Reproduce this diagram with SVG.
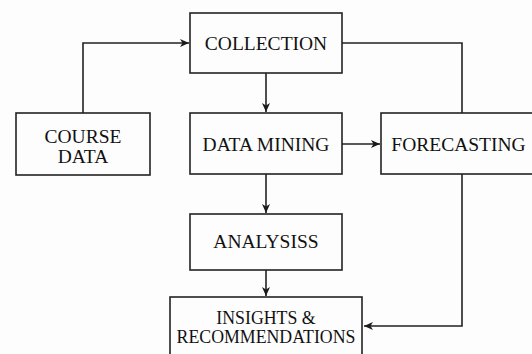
<svg xmlns="http://www.w3.org/2000/svg" width="532" height="354" viewBox="0 0 532 354">
<defs>
<marker id="arr" markerWidth="10" markerHeight="8" refX="9" refY="4" orient="auto" markerUnits="userSpaceOnUse">
<path d="M0,0 L9,4 L0,8 L2.5,4 Z" fill="#1a1a1a"/>
</marker>
</defs>
<style>
.box{fill:#fdfdfd;stroke:#222;stroke-width:1.6}
.t{font-family:"Liberation Serif","Times New Roman",serif;font-size:19.5px;fill:#111;text-anchor:middle}
.s{font-size:17.8px}
.c{fill:none;stroke:#222;stroke-width:1.6}
</style>
<rect width="532" height="354" fill="#fdfdfd"/>
<g id="connectors">
<path class="c" d="M83,113 V43 H189" marker-end="url(#arr)"/>
<path class="c" d="M342,43 H462 V113"/>
<path class="c" d="M266,73 V112" marker-end="url(#arr)"/>
<path class="c" d="M342,144 H380" marker-end="url(#arr)"/>
<path class="c" d="M266,174 V213" marker-end="url(#arr)"/>
<path class="c" d="M266,270 V296" marker-end="url(#arr)"/>
<path class="c" d="M462,174 V326 H364" marker-end="url(#arr)"/>
</g>
<g id="collection">
<rect class="box" x="190" y="13" width="152" height="60"/>
<text class="t" x="266" y="50">COLLECTION</text>
</g>
<g id="course-data">
<rect class="box" x="16" y="113" width="134" height="62"/>
<text class="t" x="83" y="143">COURSE</text>
<text class="t" x="83" y="163">DATA</text>
</g>
<g id="data-mining">
<rect class="box" x="190" y="113" width="152" height="61"/>
<text class="t" x="266" y="151">DATA MINING</text>
</g>
<g id="forecasting">
<rect class="box" x="381" y="113" width="160" height="61"/>
<text class="t" x="458.5" y="151">FORECASTING</text>
</g>
<g id="analysis">
<rect class="box" x="190" y="214" width="152" height="56"/>
<text class="t" x="266" y="248">ANALYSISS</text>
</g>
<g id="insights">
<rect class="box" x="170" y="297" width="192" height="70"/>
<text class="t s" x="266" y="324">INSIGHTS &amp;</text>
<text class="t s" x="266" y="343">RECOMMENDATIONS</text>
</g>
</svg>
